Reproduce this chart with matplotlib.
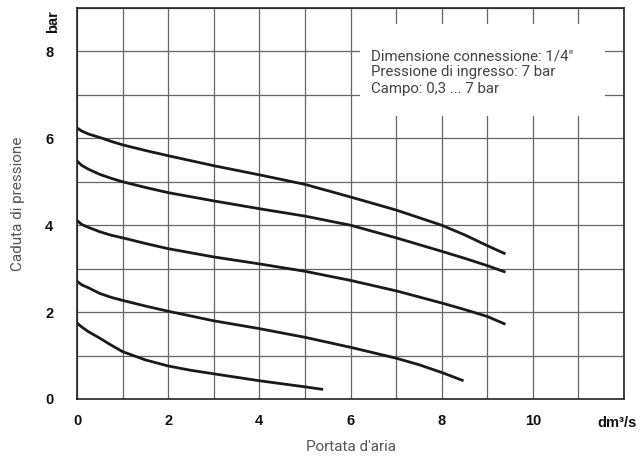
import matplotlib
matplotlib.use("Agg")
from matplotlib import pyplot as plt
from matplotlib.patches import Rectangle
import numpy as np

# flow (dm3/s) and pressure drop (bar), one pair of lists per curve
x1 = [0, 0.1, 0.25, 0.5, 0.75, 1, 1.5, 2, 3, 4, 5, 6, 7, 8, 8.5, 9, 9.4]
y1 = [6.24, 6.17, 6.1, 6.02, 5.93, 5.85, 5.72, 5.6, 5.37, 5.16, 4.94, 4.65, 4.35, 4.0, 3.78, 3.53, 3.34]
x2 = [0, 0.1, 0.25, 0.5, 0.75, 1, 1.5, 2, 3, 4, 5, 6, 7, 8, 8.5, 9, 9.4]
y2 = [5.48, 5.38, 5.29, 5.17, 5.08, 5.0, 4.87, 4.75, 4.56, 4.38, 4.21, 4.0, 3.71, 3.4, 3.24, 3.07, 2.92]
x3 = [0, 0.1, 0.25, 0.5, 0.75, 1, 1.5, 2, 3, 4, 5, 6, 7, 8, 8.5, 9, 9.4]
y3 = [4.11, 4.02, 3.95, 3.85, 3.77, 3.71, 3.58, 3.46, 3.27, 3.11, 2.94, 2.73, 2.49, 2.21, 2.06, 1.9, 1.72]
x4 = [0, 0.1, 0.25, 0.5, 0.75, 1, 1.5, 2, 3, 4, 5, 6, 7, 7.5, 8, 8.48]
y4 = [2.71, 2.63, 2.56, 2.43, 2.34, 2.27, 2.14, 2.02, 1.8, 1.62, 1.42, 1.19, 0.94, 0.79, 0.61, 0.42]
x5 = [0, 0.1, 0.25, 0.5, 0.75, 1, 1.5, 2, 2.5, 3, 4, 5, 5.4]
y5 = [1.75, 1.66, 1.55, 1.4, 1.24, 1.09, 0.9, 0.76, 0.66, 0.58, 0.42, 0.28, 0.22]
curves = [(x1, y1), (x2, y2), (x3, y3), (x4, y4), (x5, y5)]

xticks = [0, 2, 4, 6, 8, 10]
yticks = [0, 2, 4, 6, 8]
info = 'Dimensione connessione: 1/4"\nPressione di ingresso: 7 bar\nCampo: 0,3 ... 7 bar'

fig = plt.figure(figsize=(6.42, 4.61), dpi=100)
ax = fig.add_axes([77/642, 1 - 399/461, (624-77)/642, (399-8)/461])

ax.set_xlim(0, 12)
ax.set_ylim(0, 9)
ax.set_xticks(np.arange(0, 13, 1))
ax.set_yticks(np.arange(0, 10, 1))
ax.grid(True, color='#666666', linewidth=0.9, zorder=0.5)
ax.set_axisbelow(True)

# only every second grid line gets a label
ax.set_xticklabels([str(v) if v in xticks else '' for v in range(13)])
ax.set_yticklabels([str(v) if v in yticks else '' for v in range(10)])
ax.tick_params(length=0, labelsize=10.5, colors='#111111')
ax.tick_params(axis='x', pad=11)
ax.tick_params(axis='y', pad=17)
for lab in ax.get_xticklabels() + ax.get_yticklabels():
    lab.set_fontweight('bold')
    lab.set_family('Liberation Sans')

for s in ax.spines.values():
    s.set_color('#222222')
    s.set_linewidth(1.2)

# white box that blanks the grid behind the note
ax.add_patch(Rectangle((6.21, 6.51), 5.38, 2.13, facecolor='white', edgecolor='none', zorder=1.5))
ax.text(6.45, 8.05, info, fontsize=10.8, color='#444444', va='top', ha='left',
        linespacing=1.2, family='Roboto', zorder=3)

for xs, ys in curves:
    ax.plot(xs, ys, color='#1a1a1a', linewidth=2.0, solid_capstyle='butt', zorder=2)

ax.set_xlabel("Portata d'aria", fontsize=11, color='#555555', family='Roboto')
ax.xaxis.set_label_coords(0.5, -(447 - 399) / 391)
ax.xaxis.label.set_va('center')
ax.set_ylabel('Caduta di pressione', fontsize=11, color='#555555', family='Roboto')
ax.yaxis.set_label_coords(-(77 - 18) / 547, 0.5)
ax.yaxis.label.set_va('center')

fig.text(53/642, 1 - 22/461, 'bar', rotation=90, fontsize=10.5, fontweight='bold',
         family='Liberation Sans', ha='center', va='center', color='#111111')
fig.text(617/642, 1 - 423/461, 'dm\u00b3/s', fontsize=10.5, fontweight='bold',
         family='Liberation Sans', ha='center', va='center', color='#111111')

fig.savefig('out.png', dpi=100)
